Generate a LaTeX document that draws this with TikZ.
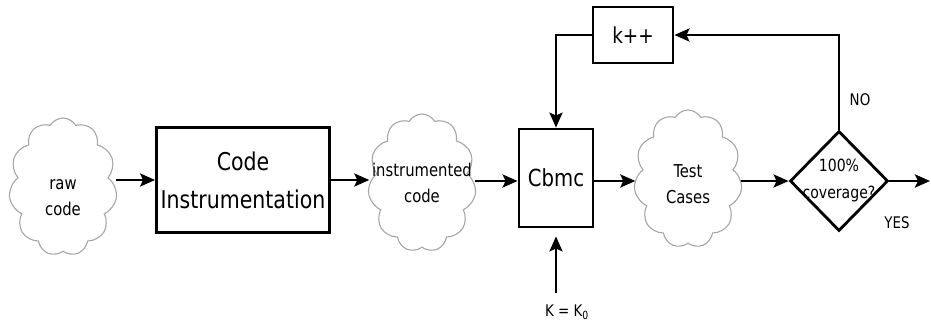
\documentclass[tikz,border=0pt]{standalone}
\usepackage{fontspec}
\setmainfont{DejaVu Sans Condensed}[FakeStretch=0.93]
\usetikzlibrary{shapes.symbols,shapes.geometric,arrows.meta}

\begin{document}
\begin{tikzpicture}[x=1pt,y=-1pt,
	box/.style={shape=rectangle,draw=black,line width=2.8pt,inner sep=0pt,align=center},
	blob/.style={shape=cloud,draw=black!35,line width=1.1pt,cloud puffs=11,cloud puff arc=120,aspect=0.8,inner sep=0pt,minimum width=108pt,minimum height=138pt},
	words/.style={align=center,font=\fontsize{17.7}{26}\selectfont},
	flow/.style={-{Stealth[length=15pt,width=13pt,inset=3pt]},line width=2.8pt},
	tag/.style={font=\fontsize{16}{18}\selectfont}]

	\useasboundingbox (0,0) rectangle (931,329);

	\node[blob,label={[words,yshift=-11pt]center:raw\\code}] (raw) at (63,187) {};
	\node[box,minimum width=173pt,minimum height=105pt,font=\fontsize{24.5}{38}\selectfont] (instr) at (243,180) {Code\\Instrumentation};
	\node[blob,label={[words]center:instrumented\\code}] (icode) at (422,183) {};
	\node[box,minimum width=74pt,minimum height=98pt,font=\fontsize{23.5}{24}\selectfont] (cbmc) at (556,178) {Cbmc};
	\node[blob,label={[words,yshift=-5pt]center:Test\\Cases}] (tests) at (688,179) {};
	\node[shape=diamond,draw=black,line width=2.8pt,inner sep=0pt,minimum width=98pt,minimum height=100pt,
		label={[align=center,font=\fontsize{16.8}{27}\selectfont]center:100\%\\coverage?}] (cov) at (839,181) {};
	\node[box,minimum width=80pt,minimum height=56pt,font=\fontsize{22}{24}\selectfont] (kpp) at (633,35) {k++};

	\coordinate (kin) at (556,293);
	\coordinate (out) at (930,181);
	\node[tag] (kzero) at (567,312) {K = K\textsubscript{0}};
	\node[tag] (no) at (860,100) {NO};
	\node[tag] (yes) at (897,223) {YES};

	\draw[flow] (raw.east |- instr) -- (instr);
	\draw[flow] (instr) -- (icode.west |- instr);
	\draw[flow] (icode.east |- cov) -- (cbmc.west |- cov);
	\draw[flow] (cbmc.east |- cov) -- (tests.west |- cov);
	\draw[flow] (tests.east |- cov) -- (cov);
	\draw[flow] (cov) -- (out);
	\draw[flow] (cov.north) -- (cov.north |- kpp.east) -- (kpp.east);
	\draw[flow] (kpp.west) -| (cbmc.north);
	\draw[flow,shorten >=8pt] (kin) -- (cbmc.south);

\end{tikzpicture}
\end{document}
